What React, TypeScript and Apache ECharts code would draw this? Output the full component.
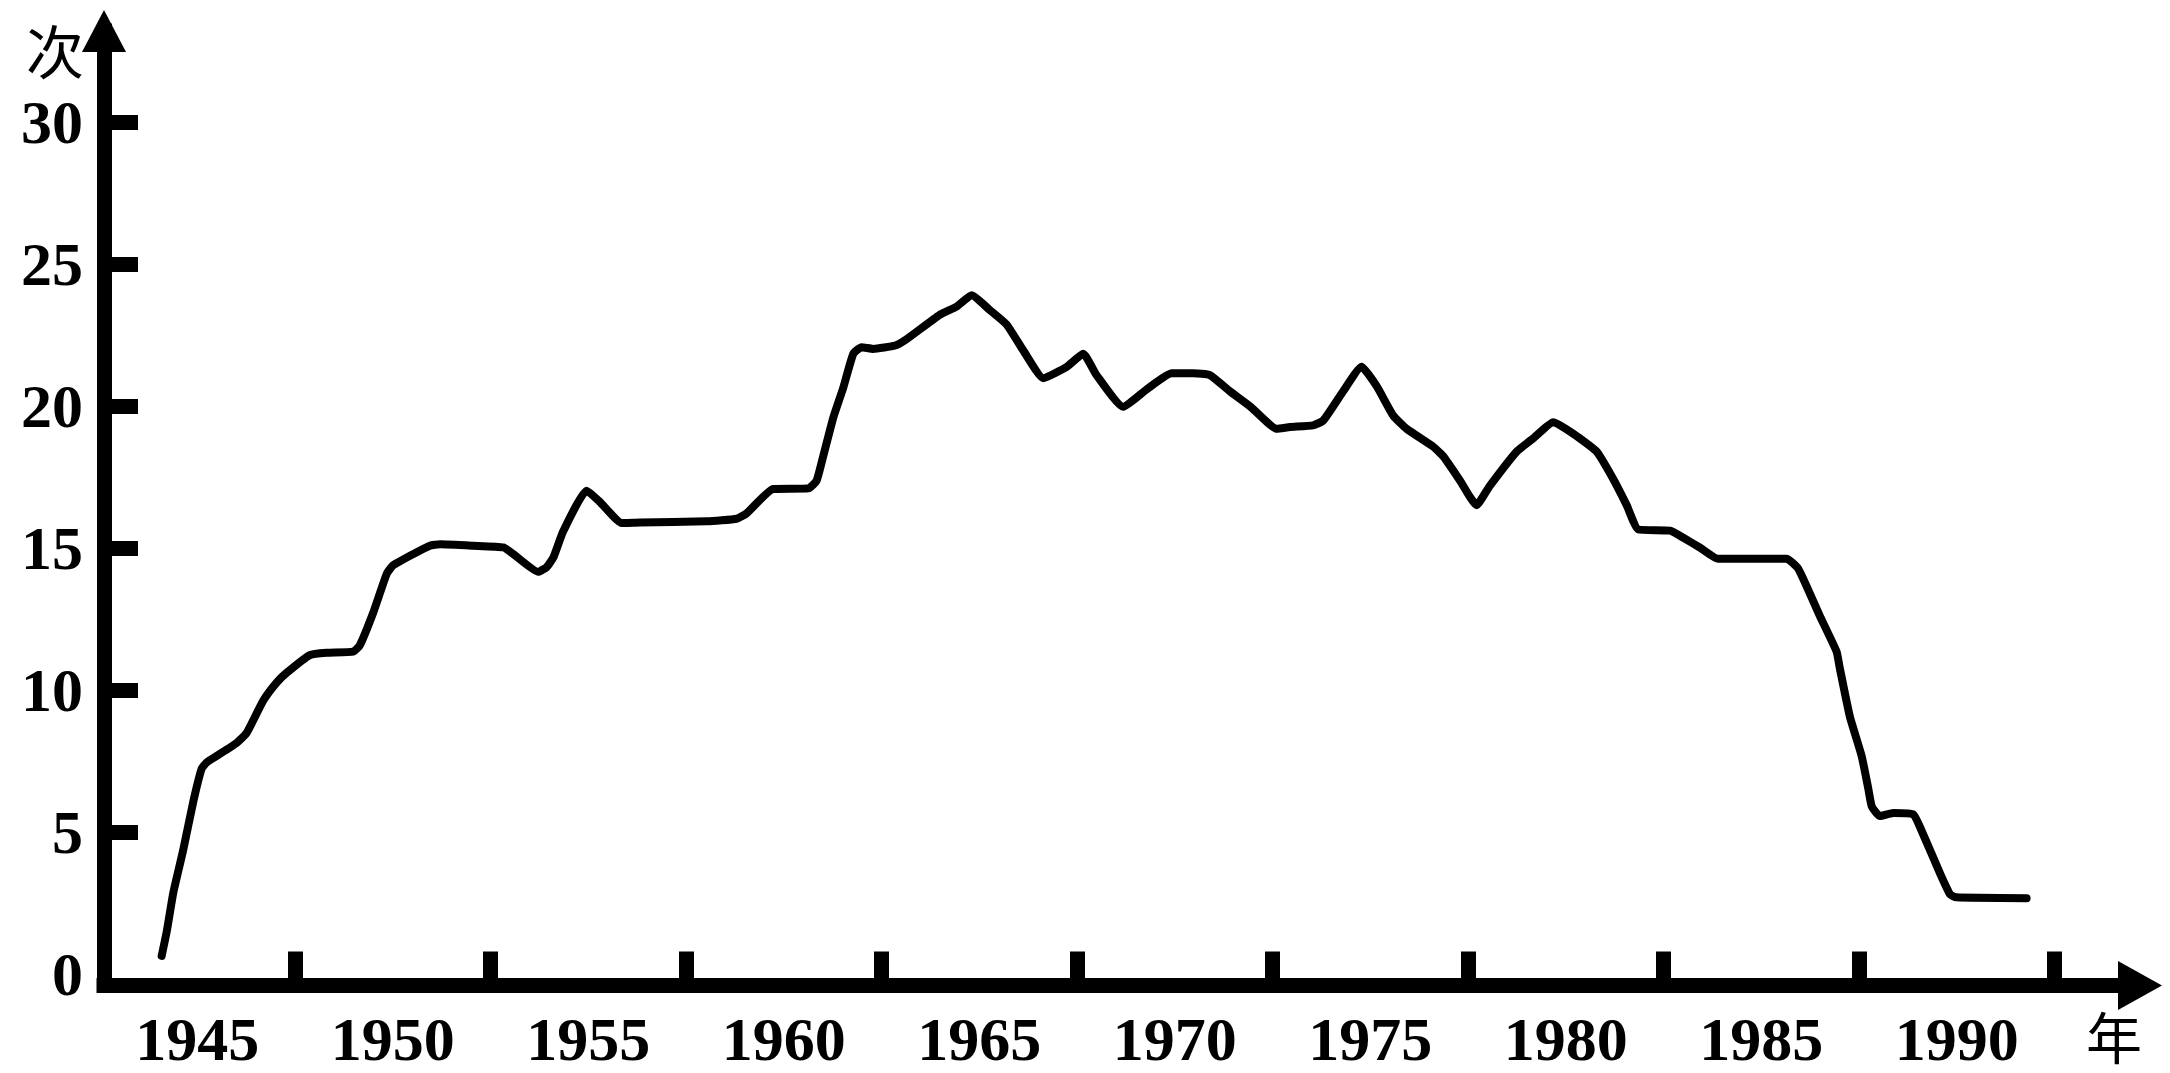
import React, { useEffect, useRef } from "react";
import * as echarts from "echarts";

// Curve readings: year (x) and count (y)
const years = [
  1944.09, 1944.22, 1944.39, 1944.64, 1944.9,
  1945.11, 1945.24, 1945.5, 1946.01, 1946.26,
  1946.69, 1947.03, 1947.29, 1947.88, 1948.31,
  1948.99, 1949.16, 1949.5, 1949.85, 1950.01,
  1950.53, 1950.95, 1951.21, 1952.06, 1952.83,
  1953.08, 1953.72, 1953.94, 1954.11, 1954.36,
  1954.96, 1955.3, 1955.86, 1956.32, 1958.03,
  1958.8, 1959.05, 1959.73, 1960.63, 1960.84,
  1961.01, 1961.27, 1961.52, 1961.78, 1961.99,
  1962.29, 1962.85, 1963.14, 1963.99, 1964.42,
  1964.81, 1965.27, 1965.7, 1966.13, 1966.64,
  1967.24, 1967.66, 1968.0, 1968.68, 1969.28,
  1969.92, 1970.47, 1970.9, 1971.41, 1971.92,
  1972.61, 1972.95, 1973.54, 1973.8, 1974.31,
  1974.78, 1975.17, 1975.59, 1975.93, 1976.61,
  1976.87, 1977.3, 1977.72, 1978.06, 1978.75,
  1979.17, 1979.68, 1980.19, 1980.79, 1981.22,
  1981.56, 1981.86, 1982.67, 1983.01, 1983.43,
  1983.9, 1984.97, 1985.65, 1985.95, 1986.5,
  1986.93, 1987.01, 1987.27, 1987.57, 1987.74,
  1987.83, 1988.04, 1988.38, 1988.89, 1989.14,
  1989.57, 1989.83, 1989.99, 1991.79,
];

const counts = [
  0.65, 1.51, 2.89, 4.37, 6.09,
  7.23, 7.46, 7.69, 8.15, 8.49,
  9.64, 10.27, 10.62, 11.24, 11.32,
  11.36, 11.59, 12.73, 14.11, 14.4,
  14.8, 15.09, 15.14, 15.09, 15.03,
  14.8, 14.17, 14.34, 14.68, 15.6,
  17.03, 16.63, 15.89, 15.91, 15.95,
  16.04, 16.23, 17.09, 17.11, 17.38,
  18.24, 19.61, 20.64, 21.85, 22.08,
  22.02, 22.14, 22.36, 23.22, 23.51,
  23.91, 23.39, 22.88, 21.96, 20.99,
  21.39, 21.85, 21.1, 19.98, 20.59,
  21.16, 21.16, 21.1, 20.53, 20.01,
  19.21, 19.27, 19.33, 19.5, 20.53,
  21.39, 20.7, 19.67, 19.21, 18.58,
  18.24, 17.38, 16.52, 17.2, 18.41,
  18.87, 19.44, 19.04, 18.41, 17.43,
  16.52, 15.66, 15.62, 15.37, 15.03,
  14.63, 14.63, 14.63, 14.28, 12.62,
  11.36, 10.79, 9.07, 7.69, 6.54,
  5.91, 5.57, 5.68, 5.63, 4.94,
  3.57, 2.82, 2.71, 2.68,
];

// Axis labels and tick marks
const xLabelYears = [1945, 1950, 1955, 1960, 1965, 1970, 1975, 1980, 1985, 1990];
const xTickMarks = [1947.5, 1952.5, 1957.5, 1962.5, 1967.5, 1972.5, 1977.5, 1982.5, 1987.5, 1992.5];
const yLabelValues = [0, 5, 10, 15, 20, 25, 30];
const yTickMarks = [5, 10, 15, 20, 25, 30];
const xAxisName = "年";
const yAxisName = "次";

const labelFont = {
  fontFamily: "'Liberation Serif', 'Times New Roman', serif",
  fontWeight: "bold" as const,
  fontSize: 62,
  color: "#000",
};

const cjkFont = "'Noto Sans CJK SC', sans-serif";

export default function App() {
  const ref = useRef<HTMLDivElement>(null);

  useEffect(() => {
    if (!ref.current) return;
    const chart = echarts.init(ref.current, null, { renderer: "svg" });
    const seriesData = years.map((y, i) => [y, counts[i]]);

    chart.setOption({
      animation: false,
      backgroundColor: "#fff",
      grid: {
        left: 104,
        right: 30,
        top: 31,
        bottom: 87.5,
        containLabel: false,
        outerBoundsMode: "none",
      },
      xAxis: {
        type: "value",
        min: 1942.615,
        max: 1994.69,
        splitLine: { show: false },
        axisLine: {
          show: true,
          onZero: false,
          symbol: ["none", "triangle"],
          symbolSize: [49, 44],
          lineStyle: { color: "#000", width: 15, cap: "square" },
        },
        axisTick: {
          show: true,
          inside: true,
          length: 34,
          customValues: xTickMarks,
          lineStyle: { color: "#000", width: 15 },
        },
        axisLabel: {
          customValues: xLabelYears,
          margin: 22,
          formatter: (v: number) => String(Math.round(v)),
          ...labelFont,
        },
      },
      yAxis: {
        type: "value",
        min: -0.395,
        max: 33.215,
        splitLine: { show: false },
        axisLine: {
          show: true,
          symbol: ["none", "triangle"],
          symbolSize: [44, 42],
          lineStyle: { color: "#000", width: 15, cap: "square" },
        },
        axisTick: {
          show: true,
          inside: true,
          length: 34,
          customValues: yTickMarks,
          lineStyle: { color: "#000", width: 15 },
        },
        axisLabel: {
          customValues: yLabelValues,
          margin: 21,
          formatter: (v: number) => String(Math.round(v)),
          ...labelFont,
        },
        name: yAxisName,
        nameLocation: "end",
        nameGap: -18,
        nameTextStyle: {
          fontFamily: cjkFont,
          fontSize: 58,
          color: "#000",
          align: "right",
          verticalAlign: "middle",
          padding: [0, 20, 0, 0],
        },
      },
      graphic: [
        {
          type: "text",
          x: 2114,
          y: 1034,
          style: {
            text: xAxisName,
            fontFamily: cjkFont,
            fontSize: 56,
            fill: "#000",
            align: "center",
            verticalAlign: "middle",
          },
        },
      ],
      series: [
        {
          type: "line",
          data: seriesData,
          showSymbol: false,
          smooth: 0.15,
          clip: false,
          lineStyle: { color: "#000", width: 8, cap: "round", join: "round" },
        },
      ],
    });

    return () => chart.dispose();
  }, []);

  return (
    <div
      ref={ref}
      style={{
        position: "fixed",
        left: 0,
        top: 0,
        width: 2170,
        height: 1073,
        background: "#fff",
      }}
    />
  );
}
